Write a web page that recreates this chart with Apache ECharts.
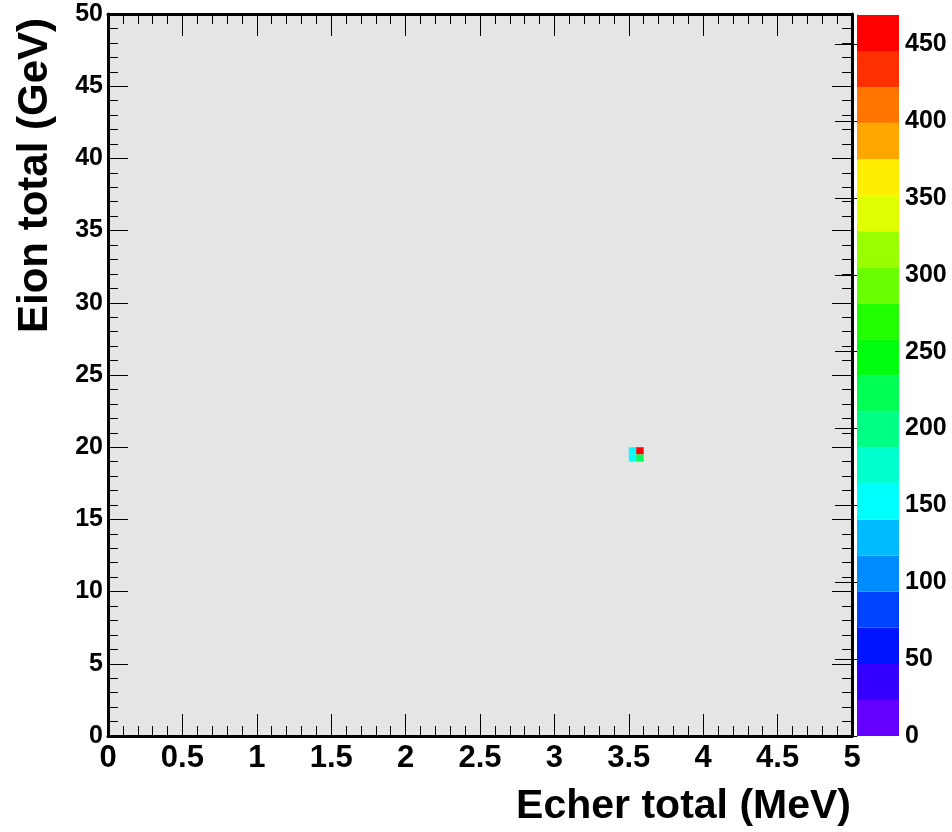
<!DOCTYPE html>
<html>
<head>
<meta charset="utf-8">
<script src="https://cdn.jsdelivr.net/npm/echarts@6/dist/echarts.min.js"></script>
<style>
  html, body { margin: 0; padding: 0; background: #ffffff; }
  #chart { width: 952px; height: 832px; }
</style>
</head>
<body>
<div id="chart"></div>
<script>
// 2D histogram: lower bin edges and entries of the filled cells
const binX = [3.50, 3.50, 3.55, 3.55];   // Echer total (MeV)
const binY = [19.5, 19.0, 19.5, 19.0];   // Eion total (GeV)
const counts = [152, 148, 469, 222];
const binW = 0.05;
const binH = 0.5;

// Colour scale: 20 equal contour levels from 0 to the histogram maximum
const zMax = 469;
const nLevels = 20;
const zTicks = [0, 50, 100, 150, 200, 250, 300, 350, 400, 450];
const palette = [
  '#6300ff', '#3300ff', '#0014ff', '#0044ff', '#008bff',
  '#00bbff', '#00fffc', '#00ffcc', '#00ff85', '#00ff55',
  '#00ff0e', '#22ff00', '#69ff00', '#99ff00', '#e0ff00',
  '#ffee00', '#ffa700', '#ff7700', '#ff3000', '#ff0000'
];

const FONT = "'Liberation Sans', Arial, Helvetica, sans-serif";

function levelOf(v) {
  return Math.min(nLevels - 1, Math.max(0, Math.floor(v / zMax * nLevels)));
}

const cells = counts.map((c, i) => [binX[i], binY[i], c]);
const levels = palette.map((col, i) => [i * zMax / nLevels, (i + 1) * zMax / nLevels, i]);

const frameLine = { show: true, onZero: false, lineStyle: { color: '#000', width: 3 } };
const tickStyle = { color: '#000', width: 1 };

function mainX(pos, showLabels) {
  return {
    type: 'value', gridIndex: 0, position: pos, min: 0, max: 5, interval: 0.5,
    axisLine: frameLine,
    axisTick: { show: true, inside: true, length: 22, lineStyle: tickStyle },
    minorTick: { show: true, splitNumber: 5, length: 10, lineStyle: tickStyle },
    splitLine: { show: false }, minorSplitLine: { show: false },
    axisLabel: {
      show: showLabels, margin: 7, color: '#000', fontFamily: FONT,
      fontWeight: 'bold', fontSize: 31
    }
  };
}
function mainY(pos, showLabels) {
  return {
    type: 'value', gridIndex: 0, position: pos, min: 0, max: 50, interval: 5,
    axisLine: frameLine,
    axisTick: { show: true, inside: true, length: 20, lineStyle: tickStyle },
    minorTick: { show: true, splitNumber: 5, length: 10, lineStyle: tickStyle },
    splitLine: { show: false }, minorSplitLine: { show: false },
    axisLabel: {
      show: showLabels, margin: 5, color: '#000', fontFamily: FONT,
      fontWeight: 'bold', fontSize: 25
    }
  };
}

const option = {
  backgroundColor: '#ffffff',
  animation: false,
  grid: [
    { left: 108, top: 14, width: 744, height: 722, show: true,
      backgroundColor: '#e5e5e5', borderWidth: 0 },
    { left: 857, top: 15, width: 42, height: 721, show: false }
  ],
  xAxis: [
    mainX('bottom', true),
    mainX('top', false),
    { type: 'value', gridIndex: 1, min: 0, max: 1, show: false }
  ],
  yAxis: [
    mainY('left', true),
    mainY('right', false),
    {
      type: 'value', gridIndex: 1, position: 'right', min: 0, max: zMax,
      axisLine: { show: true, lineStyle: { color: '#333', width: 1 } },
      axisTick: { show: true, inside: true, length: 22, customValues: zTicks,
                  lineStyle: { color: '#000', width: 1 } },
      splitLine: { show: false },
      axisLabel: {
        customValues: zTicks, margin: 6, color: '#000', fontFamily: FONT,
        fontWeight: 'bold', fontSize: 25
      }
    }
  ],
  series: [
    {
      // histogram cells
      type: 'custom', xAxisIndex: 0, yAxisIndex: 0,
      data: cells, clip: true,
      renderItem: function (params, api) {
        const x0 = api.value(0), y0 = api.value(1), v = api.value(2);
        const p0 = api.coord([x0, y0 + binH]);
        const p1 = api.coord([x0 + binW, y0]);
        return {
          type: 'rect',
          shape: { x: p0[0], y: p0[1], width: p1[0] - p0[0], height: p1[1] - p0[1] },
          style: { fill: palette[levelOf(v)] }
        };
      }
    },
    {
      // colour palette bar
      type: 'custom', xAxisIndex: 2, yAxisIndex: 2,
      data: levels,
      renderItem: function (params, api) {
        const lo = api.value(0), hi = api.value(1), k = api.value(2);
        const p0 = api.coord([0, hi]);
        const p1 = api.coord([1, lo]);
        return {
          type: 'rect',
          shape: { x: p0[0], y: p0[1], width: p1[0] - p0[0], height: p1[1] - p0[1] },
          style: { fill: palette[k] }
        };
      }
    }
  ],
  graphic: [
    {
      type: 'text', x: 851, y: 807,
      style: {
        text: 'Echer total (MeV)', fill: '#000', font: 'bold 41px ' + FONT,
        textAlign: 'right', textVerticalAlign: 'middle'
      }
    },
    {
      type: 'text', x: 35, y: 18, rotation: Math.PI / 2,
      style: {
        text: 'Eion total (GeV)', fill: '#000', font: 'bold 42px ' + FONT,
        textAlign: 'right', textVerticalAlign: 'middle'
      }
    }
  ]
};

const chart = echarts.init(document.getElementById('chart'), null, { renderer: 'canvas' });
chart.setOption(option);
</script>
</body>
</html>
